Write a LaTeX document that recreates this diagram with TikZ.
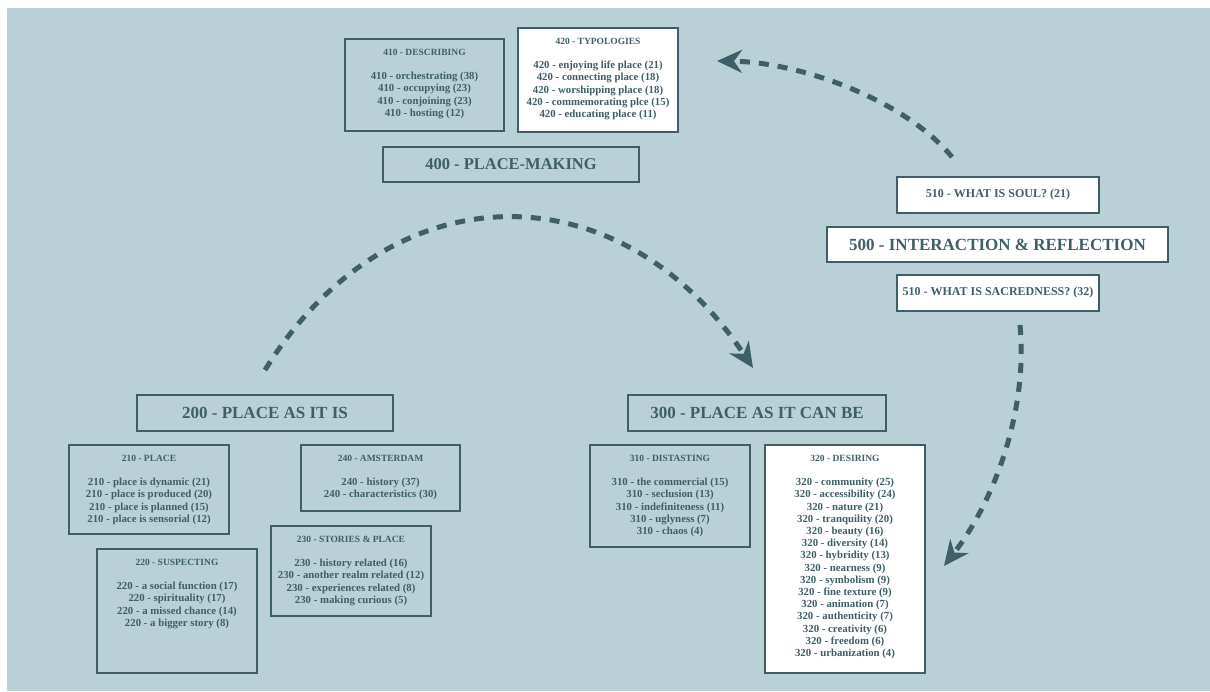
\documentclass[tikz,border=0pt]{standalone}
\usepackage{fontspec}
\setmainfont{Liberation Serif}
\usetikzlibrary{arrows.meta,fit}
\definecolor{bgc}{HTML}{B8D0D6}
\definecolor{ink}{HTML}{3F5F68}
\newcommand{\hd}[1]{{\fontsize{9.5}{12.2}\selectfont #1}}
\begin{document}
\begin{tikzpicture}[x=1pt,y=-1pt,
  box/.style={draw=ink, line width=2.6pt, inner sep=0pt},
  wbox/.style={box, fill=white},
  txt/.style={text=ink, inner sep=0pt, align=center, anchor=north, font=\fontsize{10.8}{12.2}\selectfont\bfseries},
  big/.style={text=ink, inner sep=0pt, font=\fontsize{17}{20}\selectfont\bfseries},
  mid/.style={text=ink, inner sep=0pt, font=\fontsize{12}{14}\selectfont\bfseries},
  arr/.style={draw=ink, line width=5pt, dash pattern=on 10pt off 9pt, -{Stealth[length=25pt,width=23pt,inset=8pt]}}
]
\useasboundingbox (0,0) rectangle (1210,691);
\fill[white] (0,0) rectangle (1210,691);
\fill[bgc] (7,8) rectangle (1210,691);

% 400 group
\node[box, fit={(345,39) (504,131)}] (b410) {};
\node[txt] (t410) at ([yshift=-11pt]b410.north) {\hd{410 - DESCRIBING}\\[12.2pt]410 - orchestrating (38)\\410 - occupying (23)\\410 - conjoining (23)\\410 - hosting (12)};
\node[wbox, fit={(518,28) (678,132)}] (b420) {};
\node[txt] (t420) at ([yshift=-11pt]b420.north) {\hd{420 - TYPOLOGIES}\\[12.2pt]420 - enjoying life place (21)\\420 - connecting place (18)\\420 - worshipping place (18)\\420 - commemorating plce (15)\\420 - educating place (11)};
\node[box, fit={(383,147) (639,182)}] (b400) {};
\node[text=ink, inner sep=0pt, font=\fontsize{16.5}{18}\selectfont\bfseries] (t400) at (b400.center) {400 - PLACE-MAKING};

% 500 group
\node[wbox, fit={(897,177) (1099,213)}] (b510a) {};
\node[mid] (t510a) at (b510a.center) {510 - WHAT IS SOUL? (21)};
\node[wbox, fit={(827,227) (1168,262)}] (b500) {};
\node[big] (t500) at (b500.center) {500 - INTERACTION \& REFLECTION};
\node[wbox, fit={(897,275) (1099,311)}] (b510b) {};
\node[mid] (t510b) at (b510b.center) {510 - WHAT IS SACREDNESS? (32)};

% 200 group
\node[box, fit={(137,395) (393,431)}] (b200) {};
\node[big] (t200) at (b200.center) {200 - PLACE AS IT IS};
\node[box, fit={(69,445) (229,534)}] (b210) {};
\node[txt] (t210) at ([yshift=-11pt]b210.north) {\hd{210 - PLACE}\\[12.2pt]210 - place is dynamic (21)\\210 - place is produced (20)\\210 - place is planned (15)\\210 - place is sensorial (12)};
\node[box, fit={(301,445) (460,511)}] (b240) {};
\node[txt] (t240) at ([yshift=-11pt]b240.north) {\hd{240 - AMSTERDAM}\\[12.2pt]240 - history (37)\\240 - characteristics (30)};
\node[box, fit={(97,549) (257,673)}] (b220) {};
\node[txt] (t220) at ([yshift=-11pt]b220.north) {\hd{220 - SUSPECTING}\\[12.2pt]220 - a social function (17)\\220 - spirituality (17)\\220 - a missed chance (14)\\220 - a bigger story (8)};
\node[box, fit={(271,526) (431,616)}] (b230) {};
\node[txt] (t230) at ([yshift=-11pt]b230.north) {\hd{230 - STORIES \& PLACE}\\[12.2pt]230 - history related (16)\\230 - another realm related (12)\\230 - experiences related (8)\\230 - making curious (5)};

% 300 group
\node[box, fit={(628,395) (886,431)}] (b300) {};
\node[big] (t300) at (b300.center) {300 - PLACE AS IT CAN BE};
\node[box, fit={(590,445) (750,547)}] (b310) {};
\node[txt] (t310) at ([yshift=-11pt]b310.north) {\hd{310 - DISTASTING}\\[12.2pt]310 - the commercial (15)\\310 - seclusion (13)\\310 - indefiniteness (11)\\310 - uglyness (7)\\310 - chaos (4)};
\node[wbox, fit={(765,445) (925,673)}] (b320) {};
\node[txt] (t320) at ([yshift=-11pt]b320.north) {\hd{320 - DESIRING}\\[12.2pt]320 - community (25)\\320 - accessibility (24)\\320 - nature (21)\\320 - tranquility (20)\\320 - beauty (16)\\320 - diversity (14)\\320 - hybridity (13)\\320 - nearness (9)\\320 - symbolism (9)\\320 - fine texture (9)\\320 - animation (7)\\320 - authenticity (7)\\320 - creativity (6)\\320 - freedom (6)\\320 - urbanization (4)};

% arrows
\coordinate (a1s) at (265,370);
\coordinate (a1e) at (753,368);
\draw[arr] (a1s) .. controls (390,168) and (620,168) .. (a1e);
\coordinate (a2s) at (952,157);
\coordinate (a2e) at (717,61);
\draw[arr] (a2s) .. controls (905,100) and (800,62) .. (a2e);
\coordinate (a3s) at (1020,325);
\coordinate (a3e) at (944,566);
\draw[arr] (a3s) .. controls (1028,410) and (995,500) .. (a3e);
\end{tikzpicture}
\end{document}
